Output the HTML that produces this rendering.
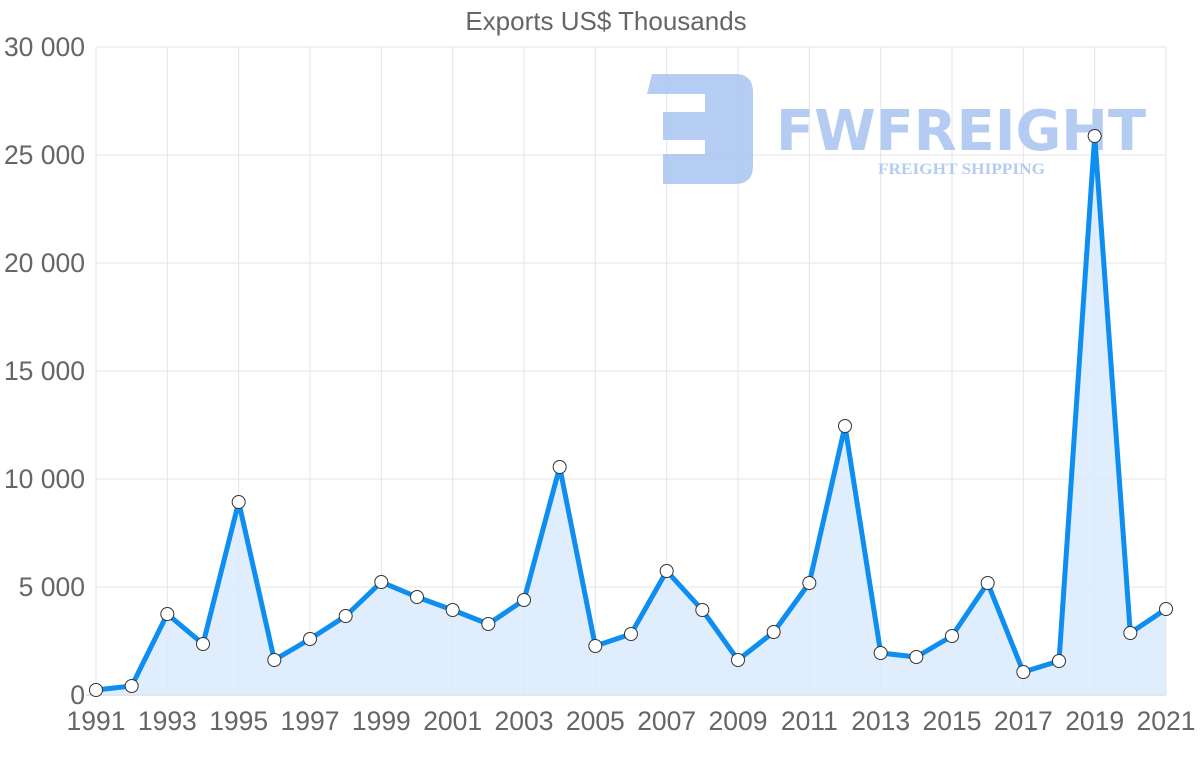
<!DOCTYPE html>
<html><head><meta charset="utf-8"><style>
html,body{margin:0;padding:0;background:#fff;}
svg{display:block;font-family:"Liberation Sans",sans-serif;}
</style></head><body>
<svg id="c" width="1200" height="763" viewBox="0 0 1200 763">
<text x="606" y="30" text-anchor="middle" font-size="26" fill="#666">Exports US$ Thousands</text>
<g stroke="#e5e5e5" stroke-width="1">
<line x1="96" y1="47" x2="1166" y2="47"/><line x1="96" y1="155" x2="1166" y2="155"/><line x1="96" y1="263" x2="1166" y2="263"/><line x1="96" y1="371" x2="1166" y2="371"/><line x1="96" y1="479" x2="1166" y2="479"/><line x1="96" y1="587" x2="1166" y2="587"/>
<line x1="86" y1="695" x2="1166" y2="695" stroke="#ccc"/>
</g>
<g id="vg" stroke="#e5e5e5" stroke-width="1"></g>
<g font-size="26.5" fill="#666" text-anchor="end">
<text x="85" y="56">30 000</text><text x="85" y="164">25 000</text><text x="85" y="272">20 000</text><text x="85" y="380">15 000</text><text x="85" y="488">10 000</text><text x="85" y="596">5 000</text><text x="85" y="704">0</text>
</g>
<g id="xl" font-size="26.5" fill="#666" text-anchor="middle"></g>
<!-- logo -->
<g fill="#a8c4f0" opacity="0.85">
<path d="M652 74 H735 Q753 74 753 92 V166 Q753 184 735 184 H663 V154 H705 V140 H663 V112 H705 V94 H647 Z"/>
<text x="776" y="150" font-size="56" font-weight="bold" textLength="370" lengthAdjust="spacingAndGlyphs" font-family="'DejaVu Sans',sans-serif">FWFREIGHT</text>
<text x="878" y="174" font-size="16" font-weight="bold" font-family="'Liberation Serif',serif" textLength="167" lengthAdjust="spacingAndGlyphs">FREIGHT SHIPPING</text>
</g>
<path id="area" fill="#d9eafc" fill-opacity="0.85"/>
<polyline id="ln" fill="none" stroke="#0e8ef0" stroke-width="5" stroke-linejoin="round"/>
<g id="pts" fill="#fff" stroke="#333" stroke-width="1"></g>
</svg>
<script>
var ys=[690,686,614,644,502,660,639,616,582,597,610,624,600,467,646,634,571,610,660,632,583,426,653,657,636,583,672,661,136,633,609];
var ns="http://www.w3.org/2000/svg",pts=[],s=document.getElementById('pts');
for(var i=0;i<31;i++){var x=96+i*1070/30;pts.push(x.toFixed(1)+","+ys[i]);
var c=document.createElementNS(ns,'circle');c.setAttribute('cx',x);c.setAttribute('cy',ys[i]);c.setAttribute('r',6.5);s.appendChild(c);
if(i%2==0){var l=document.createElementNS(ns,'line');l.setAttribute('x1',x);l.setAttribute('x2',x);l.setAttribute('y1',47);l.setAttribute('y2',695);document.getElementById('vg').appendChild(l);
var t=document.createElementNS(ns,'text');t.setAttribute('x',x);t.setAttribute('y',730);t.textContent=1991+i;document.getElementById('xl').appendChild(t);}}
document.getElementById('ln').setAttribute('points',pts.join(' '));
document.getElementById('area').setAttribute('d','M96,695 L'+pts.join(' L')+' L1166,695 Z');
</script>
</body></html>
